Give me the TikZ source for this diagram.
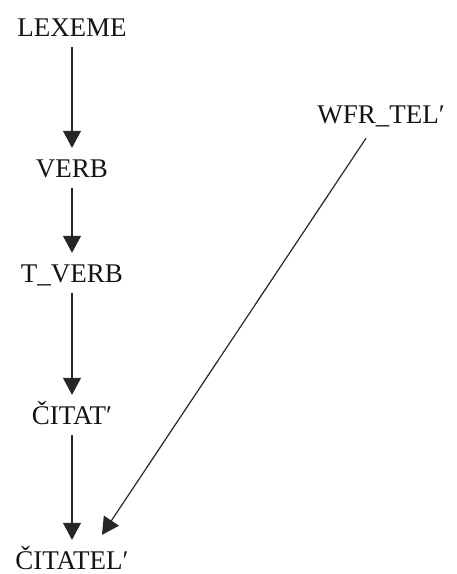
\documentclass[tikz,border=0pt]{standalone}
\usepackage{fontspec}
\setmainfont{Liberation Serif}
\usetikzlibrary{arrows.meta}

\begin{document}
\begin{tikzpicture}[
    x=1pt, y=-1pt,
    term/.style={anchor=base, inner xsep=0pt, inner ysep=11pt, text height=18pt, text depth=0pt,
                 font=\fontsize{27pt}{32pt}\selectfont, text=black!92},
    arrow/.style={-{Triangle[width=18pt,length=17pt]}, line width=1.2pt, black!85}
]
\useasboundingbox (0,0) rectangle (456,574);

% Inheritance chain
\node[term] (lexeme) at (72,36) {LEXEME};
\node[term] (verb) at (72,177) {VERB};
\node[term] (tverb) at (72,282) {T\_VERB};
\node[term] (citat) at (72,424) {ČITAT′};
\node[term] (citatel) at (72,569) {ČITATEL′};

% Word formation rule
\node[term] (wfrtel) at (381,123) {WFR\_TEL′};

% Connections
\draw[arrow] (lexeme) -- (verb);
\draw[arrow] (verb) -- (tverb);
\draw[arrow] (tverb) -- (citat);
\draw[arrow] (citat) -- (citatel);
\draw[arrow] ([xshift=-15pt,yshift=-4pt]wfrtel.south) -- ([xshift=30pt,yshift=5pt]citatel.north);

\end{tikzpicture}
\end{document}
